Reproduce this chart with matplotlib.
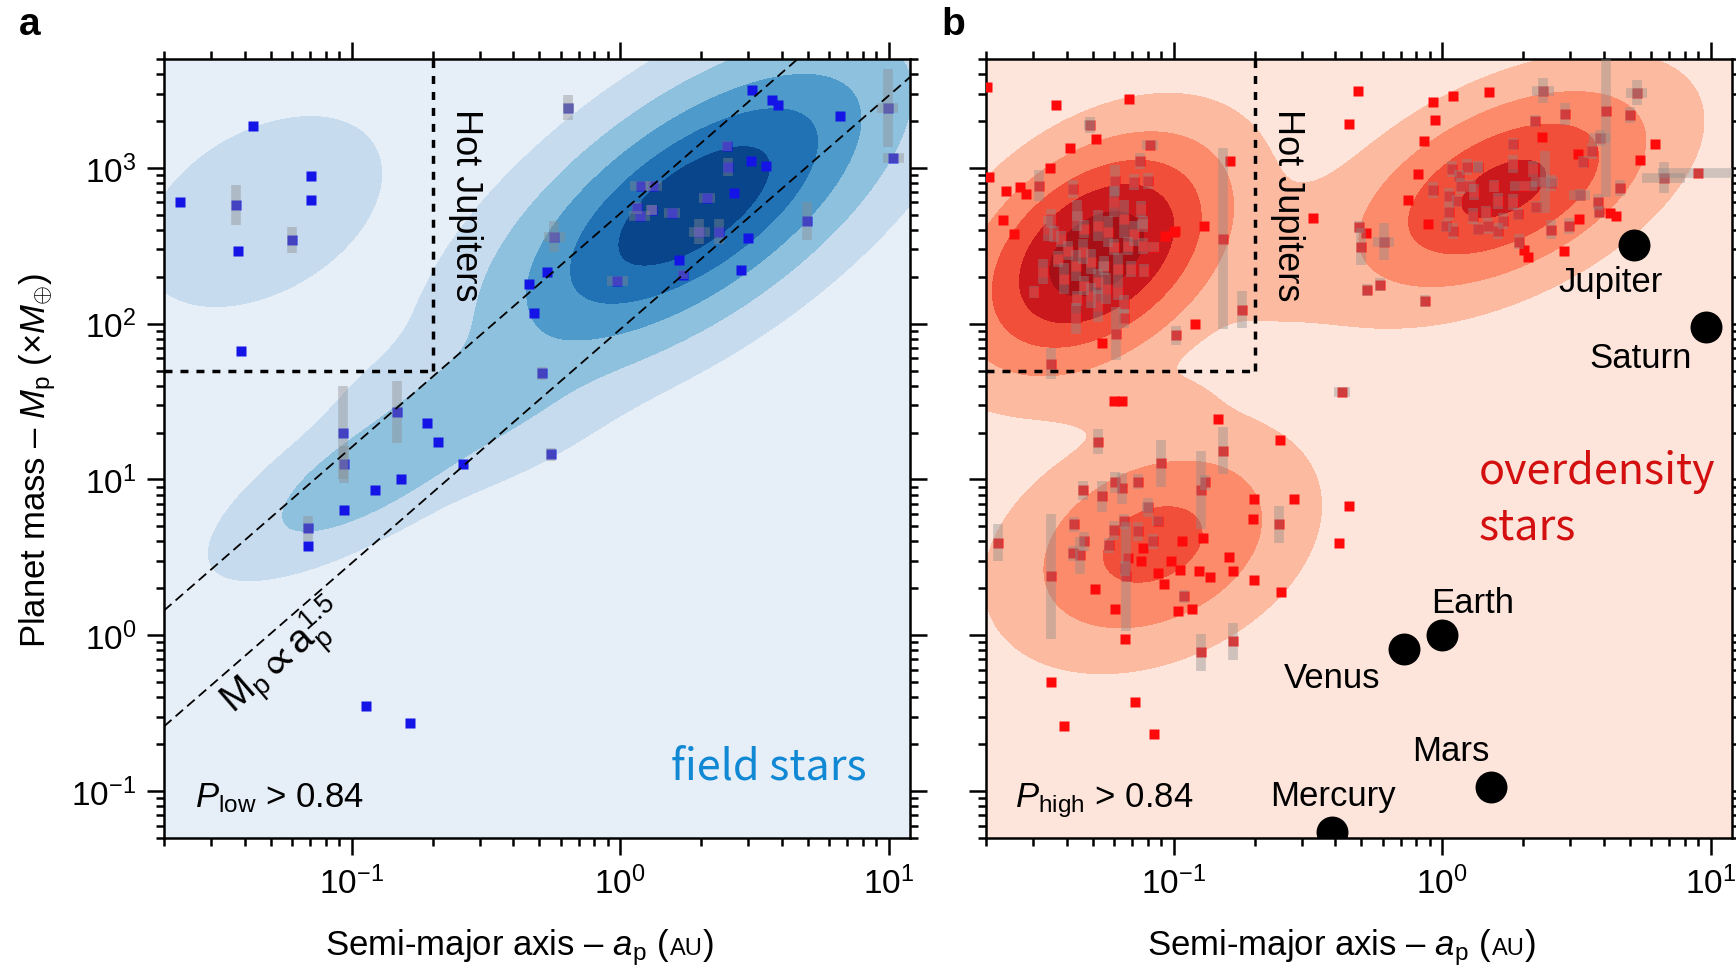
"""Planet mass vs semi-major axis for field and overdensity host stars."""

import numpy as np
import matplotlib
matplotlib.use('Agg')
import matplotlib.pyplot as plt
from matplotlib import rcParams

rcParams['font.family'] = 'sans-serif'
rcParams['font.sans-serif'] = ['Liberation Sans', 'DejaVu Sans']
rcParams['mathtext.fontset'] = 'custom'
rcParams['mathtext.rm'] = 'Liberation Sans'
rcParams['mathtext.it'] = 'Liberation Sans:italic'
rcParams['mathtext.bf'] = 'Liberation Sans:bold'
rcParams['axes.linewidth'] = 1.8

# ---- field stars (panel a): a [AU], M [M_earth], half-width of error bars in dex
field_a = [0.023, 0.0428, 0.037, 0.0377, 0.0705, 0.0705, 0.060, 0.0386, 0.147, 0.0926,
           0.0934, 0.094, 0.122, 0.153, 0.19, 0.21, 0.259, 0.069, 0.069, 0.113,
           0.1655, 0.641, 3.10, 3.67, 3.87, 6.58, 9.9, 10.4, 2.5, 3.07,
           3.49, 2.52, 1.19, 1.33, 2.1, 2.65, 1.15, 1.31, 1.18, 1.56,
           1.97, 2.33, 2.99, 0.569, 0.536, 0.459, 0.479, 1.66, 1.71, 0.975,
           2.82, 4.95, 0.513, 0.553]
field_m = [600, 1860, 580, 294, 890, 624, 345, 67, 27, 20,
           12.5, 6.4, 8.5, 10.1, 23.2, 17.5, 12.5, 4.85, 3.72, 0.35,
           0.273, 2425, 3160, 2730, 2535, 2155, 2425, 1160, 1385, 1110,
           1030, 1015, 767, 767, 643, 692, 554, 538, 492, 515,
           389, 389, 356, 361, 215, 180, 117, 257, 206, 189,
           222, 457, 48, 14.5]
field_da = [0, 0, 0, 0, 0, 0, 0, 0, 0, 0,
            0, 0, 0, 0, 0, 0, 0, 0, 0, 0,
            0, 0.02, 0, 0, 0, 0, 0.04, 0.04, 0, 0,
            0, 0, 0.04, 0.03, 0.03, 0, 0, 0.02, 0.04, 0.03,
            0.04, 0, 0, 0.04, 0, 0, 0, 0, 0, 0.04,
            0, 0, 0, 0]
field_dm = [0, 0, 0.13, 0, 0, 0, 0.085, 0, 0.2, 0.3,
            0.12, 0, 0, 0, 0, 0, 0, 0.08, 0, 0,
            0, 0.08, 0, 0, 0, 0, 0.25, 0, 0.03, 0,
            0, 0.06, 0, 0, 0, 0, 0.04, 0.03, 0, 0,
            0.08, 0.08, 0, 0.1, 0, 0, 0, 0, 0.03, 0,
            0, 0.12, 0.04, 0.04]

# ---- overdensity stars (panel b)
over_a = [0.0201, 0.0363, 0.068, 0.0487, 0.0513, 0.0815, 0.041, 0.0747, 0.162, 0.0345,
          0.0205, 0.0267, 0.0314, 0.0237, 0.0281, 0.0231, 0.0254, 0.130, 0.101, 0.0925,
          0.153, 0.179, 0.12, 0.102, 0.0608, 0.054, 0.0348, 0.33, 0.449, 0.484,
          0.423, 0.0598, 0.064, 0.146, 0.0521, 0.248, 0.153, 0.09,
          0.042, 0.0602, 0.071, 0.08, 0.0348, 0.0339, 0.0357, 0.0438, 0.0521, 0.0568,
          0.0652, 0.0767, 0.071, 0.0767, 0.0674, 0.0598, 0.0458, 0.0403, 0.037, 0.0431,
          0.049, 0.0548, 0.0618, 0.0691, 0.0325, 0.0389, 0.0462, 0.0521, 0.0558, 0.0618,
          0.049, 0.0438, 0.0521, 0.0652, 0.0431, 0.0301, 0.0379, 0.0462, 0.0598, 0.0753,
          0.0843, 0.0773, 0.0652, 0.1,
          0.0221, 0.0458, 0.054, 0.0603, 0.064, 0.0734, 0.131, 0.126, 0.199, 0.28,
          0.197, 0.449, 0.412, 0.246, 0.08, 0.0871, 0.0425, 0.0463, 0.042, 0.0447,
          0.0573, 0.0598, 0.0652, 0.0734, 0.0835, 0.0767, 0.107, 0.129, 0.0674, 0.0753,
          0.0871, 0.0975, 0.106, 0.124, 0.137, 0.16, 0.167, 0.199, 0.252, 0.0918,
          0.0658, 0.0662, 0.0348, 0.0508, 0.0603, 0.109, 0.104, 0.117, 0.0658, 0.126,
          0.166, 0.0348, 0.0716, 0.0389, 0.0843,
          0.923, 1.10, 1.5, 0.937, 0.853, 0.81, 0.744, 2.37, 2.86, 4.06,
          5.3, 4.99, 6.18, 5.44, 9.0, 6.68, 4.58, 3.86, 3.6, 3.2,
          3.34, 3.8, 3.83, 4.21, 4.43, 3.22, 2.96, 3.25, 2.84, 2.54,
          2.21, 2.35, 1.83, 1.83, 2.17, 2.41, 2.23, 1.93, 2.01, 2.08,
          0.883, 1.09, 0.923, 1.06, 1.15, 1.24, 1.36, 1.31, 1.14, 1.06,
          1.03, 1.10, 1.30, 1.45, 1.61, 1.83, 1.91, 1.69, 1.48, 1.36,
          1.62, 1.28, 1.17, 2.54, 2.01, 1.56, 0.489, 0.519, 0.497, 0.605,
          0.524, 0.585, 0.861]
over_m = [3300, 2535, 2770, 1890, 1535, 1400, 1343, 1110, 1110, 1000,
          875, 755, 767, 713, 681, 464, 378, 425, 394, 366,
          351, 123, 100, 84, 86, 75.5, 55.5, 478, 1915, 3120,
          36.6, 32, 32, 24.3, 17.5, 18, 15.3, 12.7,
          733, 826, 813, 826, 471, 406, 378, 492, 425, 389,
          471, 438, 378, 316, 316, 312, 290, 294, 261, 236,
          250, 236, 225, 225, 215, 194, 175, 186, 168, 160,
          151, 145, 130, 134, 108, 160, 351, 406, 605, 546,
          312, 219, 108, 389,
          3.94, 8.5, 7.78, 9.57, 8.76, 9.7, 9.57, 8.6, 7.55, 7.45,
          5.54, 6.8, 3.89, 5.15, 6.62, 5.38, 5.15, 4.0, 3.36, 3.26,
          3.78, 4.71, 5.38, 4.64, 4.0, 3.61, 4.0, 4.19, 3.12, 2.98,
          2.5, 2.98, 2.61, 2.57, 2.35, 3.16, 2.57, 2.25, 1.89, 2.15,
          2.69, 2.39, 2.39, 1.97, 1.47, 1.78, 1.43, 1.47, 0.94, 0.778,
          0.916, 0.5, 0.372, 0.261, 0.232,
          2650, 2895, 3070, 2030, 1490, 915, 624, 3120, 2220, 2320,
          3030, 2186, 1426, 1125, 929, 863, 745, 1557, 1285, 1230,
          1093, 605, 523, 515, 492, 471, 425, 671, 294, 401,
          2000, 1580, 1426, 1061, 986, 813, 562, 336, 298, 268,
          438, 986, 723, 662, 889, 1015, 1015, 702, 614, 523,
          425, 394, 492, 523, 614, 605, 507, 457, 425, 406,
          394, 767, 767, 802, 767, 767, 419, 383, 312, 336,
          165, 178, 140]
over_da = [0, 0, 0, 0.02, 0, 0.03, 0, 0, 0, 0,
           0, 0, 0, 0, 0, 0, 0, 0, 0, 0,
           0, 0, 0, 0, 0, 0, 0, 0, 0, 0,
           0.03, 0, 0, 0, 0, 0, 0, 0,
           0, 0, 0, 0, 0, 0, 0, 0.02, 0, 0,
           0, 0.02, 0, 0, 0, 0, 0, 0, 0, 0,
           0, 0.02, 0, 0, 0, 0, 0, 0, 0, 0,
           0, 0, 0, 0, 0, 0, 0, 0, 0, 0,
           0.02, 0, 0, 0,
           0, 0, 0, 0, 0, 0, 0, 0, 0, 0,
           0, 0, 0, 0, 0.02, 0.02, 0, 0, 0, 0,
           0, 0, 0, 0, 0, 0, 0, 0, 0, 0,
           0, 0, 0, 0, 0, 0, 0, 0, 0, 0,
           0, 0, 0, 0, 0, 0, 0, 0, 0, 0,
           0, 0, 0, 0, 0,
           0, 0, 0, 0, 0, 0, 0, 0.04, 0, 0,
           0.04, 0, 0, 0, 0.15, 0.08, 0, 0.04, 0, 0,
           0, 0, 0, 0, 0, 0, 0, 0.04, 0, 0,
           0, 0, 0, 0, 0, 0.05, 0, 0, 0, 0,
           0, 0, 0, 0, 0, 0, 0.02, 0, 0, 0,
           0, 0, 0, 0, 0, 0, 0, 0, 0, 0,
           0, 0, 0, 0, 0.05, 0, 0, 0, 0, 0.04,
           0, 0, 0]
over_dm = [0, 0, 0, 0.05, 0, 0, 0, 0.05, 0, 0,
           0, 0, 0.1, 0, 0, 0, 0, 0, 0, 0,
           0.58, 0.12, 0, 0.06, 0.17, 0, 0.1, 0, 0, 0,
           0, 0, 0, 0, 0.08, 0, 0.15, 0.15,
           0.06, 0.1, 0.05, 0.05, 0.06, 0.08, 0.05, 0.1, 0.1, 0.1,
           0.12, 0.05, 0.08, 0.05, 0.06, 0.05, 0.08, 0.06, 0.05, 0.1,
           0.08, 0.06, 0.1, 0.05, 0.08, 0.1, 0.06, 0.08, 0.1, 0.05,
           0.08, 0.05, 0.1, 0.06, 0.1, 0.04, 0.05, 0.06, 0.1, 0.05,
           0, 0.04, 0.06, 0,
           0.12, 0.06, 0.1, 0.07, 0.1, 0.05, 0.05, 0.25, 0, 0,
           0, 0, 0, 0.12, 0.06, 0, 0.05, 0.06, 0.05, 0.12,
           0.05, 0.06, 0.05, 0.06, 0.05, 0, 0, 0, 0, 0,
           0, 0, 0, 0, 0, 0, 0, 0, 0, 0,
           0.05, 0.35, 0.4, 0, 0, 0.04, 0, 0, 0, 0.12,
           0.12, 0, 0, 0, 0,
           0, 0, 0, 0, 0, 0, 0, 0.08, 0.07, 0.55,
           0.08, 0.05, 0, 0, 0, 0.1, 0.05, 0.05, 0.05, 0,
           0.04, 0.05, 0.04, 0, 0, 0, 0.05, 0.04, 0, 0.06,
           0.04, 0, 0.04, 0.06, 0.05, 0.2, 0.04, 0.05, 0, 0,
           0, 0.05, 0.05, 0.05, 0.04, 0.05, 0.04, 0.05, 0.04, 0.05,
           0.04, 0.05, 0.05, 0.04, 0.05, 0.05, 0.04, 0.05, 0.05, 0.04,
           0.05, 0.04, 0.05, 0.05, 0, 0.04, 0.04, 0, 0.12, 0.12,
           0.04, 0.04, 0.04]

# ---- Solar System planets
planet_names = ['Mercury', 'Venus', 'Earth', 'Mars', 'Jupiter', 'Saturn']
planet_a = [0.387, 0.723, 1.0, 1.524, 5.20, 9.58]
planet_m = [0.055, 0.815, 1.0, 0.107, 318, 95.2]
planet_offsets = [(1, 19), (-52, -27), (22, 17), (-29, 19), (-17, -33), (-47, -29)]

# ---- density mixture (log10 a, log10 M): amplitude, means, widths [dex], correlation
field_amp = [1.0, 0.06, 0.032, 0.008]
field_mu_a = [0.275, -0.907, -0.5, -1.33]
field_mu_m = [2.756, 1.07, 1.54, 2.72]
field_sd_a = [0.28, 0.21, 0.228, 0.20]
field_sd_m = [0.38, 0.241, 0.252, 0.276]
field_rho = [0.66, 0.758, 0.55, 0.4]

over_amp = [1.0, 0.34, 0.133, 0.0022, 0.0015]
over_mu_a = [-1.287, 0.229, -1.078, -0.55, -1.15]
over_mu_m = [2.449, 2.865, 0.583, 2.45, 1.5]
over_sd_a = [0.175, 0.212, 0.194, 0.30, 0.22]
over_sd_m = [0.27, 0.25, 0.256, 0.28, 0.15]
over_rho = [0.4, 0.5, 0.3, 0.2, 0.0]

LEVELS = [0.0007, 0.015, 0.085, 0.26, 0.607]

# M_p ~ a_p^1.5 guide lines and the hot-Jupiter corner
GUIDE_NORM = [92, 510]
HJ_A, HJ_M = 0.2, 50
XLIM = (0.02, 12)
YLIM = (0.05, 5000)

BLUE_BG = '#e6eef8'
BLUES = ['#c6dbee', '#8ec1de', '#4d9acb', '#2171b5', '#08458a']
RED_BG = '#fde5dc'
REDS = ['#fcbba1', '#fc8b6b', '#f24f3a', '#cb181d', '#a50f15']
BAR = '#8c8c8c'

W, H = 1736, 970
fig = plt.figure(figsize=(W / 100, H / 100), dpi=100)
fig.patch.set_facecolor('white')
ax_a = fig.add_axes([164 / W, 131 / H, 746 / W, 779 / H])
ax_b = fig.add_axes([986 / W, 131 / H, 746 / W, 779 / H])

gx, gy = np.meshgrid(np.linspace(-1.75, 1.15, 500), np.linspace(-1.4, 3.8, 500))


def mixture(amp, mu_a, mu_m, sd_a, sd_m, rho):
    z = np.zeros_like(gx)
    for A, ma, mm, sa, sm, r in zip(amp, mu_a, mu_m, sd_a, sd_m, rho):
        u = (gx - ma) / sa
        v = (gy - mm) / sm
        z += A * np.exp(-(u * u - 2 * r * u * v + v * v) / (2 * (1 - r * r)))
    return z


def style_axes(ax, bg, ylabels=True):
    ax.set_facecolor(bg)
    ax.set_xscale('log')
    ax.set_yscale('log')
    ax.set_xlim(*XLIM)
    ax.set_ylim(*YLIM)
    ax.tick_params(which='both', direction='out', top=True, right=True,
                   width=1.8, labelsize=24, pad=8)
    ax.tick_params(which='major', length=12)
    ax.tick_params(which='minor', length=6)
    ax.tick_params(labelleft=ylabels)
    ax.yaxis.set_minor_locator(matplotlib.ticker.LogLocator(base=10, subs=np.arange(2, 10), numticks=20))
    ax.xaxis.set_minor_locator(matplotlib.ticker.LogLocator(base=10, subs=np.arange(2, 10), numticks=20))
    ax.yaxis.set_minor_formatter(matplotlib.ticker.NullFormatter())
    ax.xaxis.set_minor_formatter(matplotlib.ticker.NullFormatter())


def draw_points(ax, a, m, da, dm, color):
    a, m, da, dm = map(np.asarray, (a, m, da, dm))
    ax.plot(a, m, 's', ms=6.5, mfc=color, mec='none', zorder=4)
    sel = dm > 0
    mm = m[sel]
    ax.errorbar(a[sel], mm, yerr=[mm - mm * 10 ** -dm[sel], mm * 10 ** dm[sel] - mm],
                fmt='none', ecolor=BAR, elinewidth=7, alpha=0.4, zorder=5)
    sel = da > 0
    aa = a[sel]
    ax.errorbar(aa, m[sel], xerr=[aa - aa * 10 ** -da[sel], aa * 10 ** da[sel] - aa],
                fmt='none', ecolor=BAR, elinewidth=7, alpha=0.4, zorder=5)


def hot_jupiter_box(ax):
    ls = (0, (2.3, 2.3))
    ax.plot([HJ_A, HJ_A], [HJ_M, YLIM[1]], color='black', lw=2.5, ls=ls, zorder=6)
    ax.plot([XLIM[0], HJ_A], [HJ_M, HJ_M], color='black', lw=2.5, ls=ls, zorder=6)
    ax.annotate('Hot Jupiters', xy=(HJ_A, 1.0), xycoords=('data', 'axes fraction'),
                xytext=(11.5, -35), textcoords='offset points', rotation=-90,
                ha='left', va='top', fontsize=26, zorder=7)


# ---- panel a
style_axes(ax_a, BLUE_BG)
z_a = mixture(field_amp, field_mu_a, field_mu_m, field_sd_a, field_sd_m, field_rho)
ax_a.contourf(10 ** gx, 10 ** gy, z_a, levels=LEVELS + [10], colors=BLUES, zorder=1)
draw_points(ax_a, field_a, field_m, field_da, field_dm, '#1414e6')
a_line = np.geomspace(XLIM[0], XLIM[1], 50)
for c in GUIDE_NORM:
    ax_a.plot(a_line, c * a_line ** 1.5, color='black', lw=1.3, ls=(0, (5.5, 3)), zorder=6)
ax_a.text(0.056, 0.71, r'$\mathregular{M_p \propto a_p^{1.5}}$', rotation=41,
          rotation_mode='anchor', ha='center', va='center', fontsize=28, zorder=7)
hot_jupiter_box(ax_a)
ax_a.text(0.042, 0.041, r'$P_{\rm low}$ > 0.84', transform=ax_a.transAxes,
          fontsize=25, va='baseline', ha='left', zorder=7)
ax_a.text(0.942, 0.076, 'field stars', transform=ax_a.transAxes, fontsize=31,
          family=['Noto Sans CJK SC', 'DejaVu Sans'], color='#1088d4',
          ha='right', va='baseline', zorder=7)

# ---- panel b
style_axes(ax_b, RED_BG, ylabels=False)
z_b = mixture(over_amp, over_mu_a, over_mu_m, over_sd_a, over_sd_m, over_rho)
ax_b.contourf(10 ** gx, 10 ** gy, z_b, levels=LEVELS + [10], colors=REDS, zorder=1)
draw_points(ax_b, over_a, over_m, over_da, over_dm, '#ff0a0a')
hot_jupiter_box(ax_b)
ax_b.plot(planet_a, planet_m, 'o', ms=23, color='black', mec='none', zorder=8)
for name, pa, pm, off in zip(planet_names, planet_a, planet_m, planet_offsets):
    ax_b.annotate(name, xy=(pa, pm), xytext=off, textcoords='offset points',
                  ha='center', va='baseline', fontsize=25, zorder=8)
ax_b.text(0.039, 0.041, r'$P_{\rm high}$ > 0.84', transform=ax_b.transAxes,
          fontsize=25, va='baseline', ha='left', zorder=7)
for txt, yb in [('overdensity', 0.456), ('stars', 0.384)]:
    ax_b.text(0.661, yb, txt, transform=ax_b.transAxes, fontsize=31,
              family=['Noto Sans CJK SC', 'DejaVu Sans'], color='#d3100f',
              ha='left', va='baseline', zorder=7)

# ---- labels
fig.text(30 / W, 1 - 35 / H, 'a', fontsize=28, fontweight='bold', ha='center', va='baseline')
fig.text(953 / W, 1 - 35 / H, 'b', fontsize=28, fontweight='bold', ha='center', va='baseline')
fig.text(38 / W, 1 - 460 / H, r'Planet mass – $M_{\rm p}$ ($\times M_{\oplus}$)',
         rotation=90, ha='center', va='center', fontsize=25)

renderer = fig.canvas.get_renderer()


def xlabel_pieces(ax):
    bb = ax.get_position()
    xc = (bb.x0 + bb.x1) / 2 * W - 17
    parts = [(r'Semi-major axis – $a_{\rm p}$ (', 25), ('AU', 17), (')', 25)]
    texts = [fig.text(0, 15 / H, s, fontsize=fs, ha='left', va='baseline') for s, fs in parts]
    widths = [t.get_window_extent(renderer).width for t in texts]
    x = xc - sum(widths) / 2
    for t, w in zip(texts, widths):
        t.set_x(x / W)
        x += w


xlabel_pieces(ax_a)
xlabel_pieces(ax_b)

fig.savefig('out.png', dpi=100, facecolor='white')
plt.close(fig)
